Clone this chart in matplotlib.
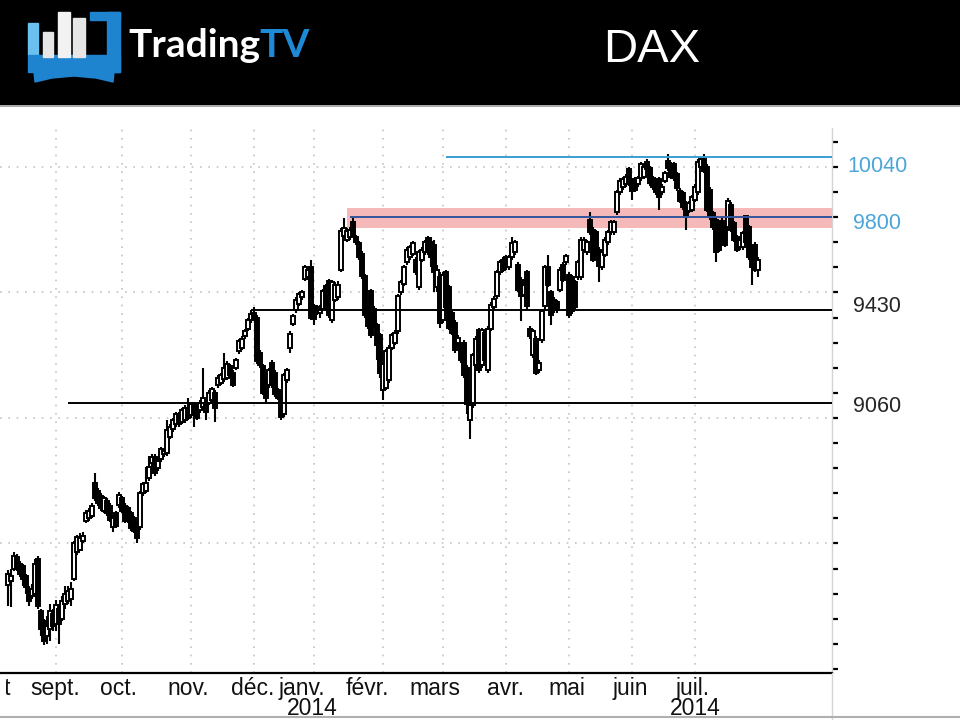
import numpy as np
import matplotlib
matplotlib.use("Agg")
import matplotlib.pyplot as plt
from matplotlib.patches import Rectangle, Polygon
from matplotlib.lines import Line2D
from matplotlib.transforms import blended_transform_factory, Bbox

# DAX daily candles, Aug 2013 - Jul 2014
opens = [
    8335, 8350, 8400, 8445, 8420, 8410, 8370, 8320, 8290, 8300,
    8440, 8230, 8190, 8130, 8160, 8220, 8180, 8240, 8200, 8260,
    8270, 8280, 8360, 8465, 8475, 8510, 8590, 8600, 8610, 8740,
    8710, 8690, 8630, 8670, 8650, 8565, 8620, 8655, 8680, 8650,
    8640, 8620, 8600, 8580, 8565, 8700, 8710, 8760, 8820, 8845,
    8800, 8835, 8855, 8860, 8925, 8955, 8975, 9015, 8985, 8990,
    9040, 9010, 9055, 9040, 9030, 9045, 9060, 9060, 9070, 9100,
    9130, 9140, 9155, 9160, 9205, 9180, 9200, 9265, 9280, 9325,
    9355, 9390, 9420, 9400, 9260, 9205, 9150, 9130, 9220, 9180,
    9110, 9070, 9015, 9150, 9280, 9375, 9430, 9455, 9480, 9555,
    9560, 9600, 9445, 9440, 9420, 9435, 9525, 9545, 9390, 9470,
    9480, 9590, 9725, 9710, 9720, 9780, 9720, 9695, 9655, 9565,
    9435, 9505, 9435, 9370, 9330, 9110, 9120, 9150, 9280, 9300,
    9345, 9500, 9535, 9620, 9640, 9655, 9630, 9520, 9630, 9660,
    9715, 9700, 9690, 9520, 9560, 9390, 9580, 9520, 9420, 9380,
    9300, 9290, 9300, 9200, 8990, 9050, 9210, 9350, 9210, 9340,
    9190, 9355, 9440, 9485, 9580, 9630, 9640, 9600, 9640, 9660,
    9610, 9550, 9490, 9580, 9355, 9250, 9315, 9190, 9310, 9445,
    9600, 9500, 9470, 9460, 9510, 9610, 9620, 9570, 9560, 9540,
    9560, 9560, 9670, 9660, 9790, 9750, 9740, 9670, 9600, 9650,
    9700, 9740, 9740, 9820, 9900, 9920, 9930, 9990, 9945, 9950,
    9930, 9955, 9960, 10020, 9995, 9955, 9940, 9950, 9900, 9945,
    10025, 10010, 10010, 9970, 9905, 9895, 9855, 9825, 9830, 9870,
    9900, 10000, 10030, 10000, 9910, 9815, 9790, 9775, 9785, 9760,
    9760, 9850, 9775, 9720, 9680, 9680, 9805, 9760, 9680, 9690,
    9590,
]
highs = [
    8395, 8400, 8465, 8460, 8430, 8420, 8380, 8330, 8340, 8440,
    8450, 8240, 8200, 8210, 8260, 8240, 8275, 8260, 8290, 8330,
    8330, 8345, 8510, 8535, 8540, 8545, 8635, 8640, 8660, 8780,
    8720, 8700, 8690, 8680, 8660, 8610, 8630, 8705, 8690, 8660,
    8650, 8630, 8610, 8590, 8710, 8745, 8805, 8850, 8855, 8855,
    8840, 8885, 8880, 8990, 8975, 9000, 9025, 9025, 9040, 9050,
    9080, 9065, 9065, 9050, 9070, 9200, 9070, 9110, 9125, 9110,
    9170, 9180, 9260, 9225, 9215, 9190, 9240, 9315, 9325, 9355,
    9400, 9430, 9440, 9410, 9270, 9215, 9160, 9200, 9230, 9190,
    9120, 9085, 9180, 9200, 9345, 9415, 9480, 9500, 9510, 9610,
    9600, 9630, 9455, 9450, 9450, 9515, 9535, 9555, 9550, 9540,
    9545, 9755, 9795, 9755, 9760, 9795, 9730, 9705, 9665, 9575,
    9445, 9515, 9445, 9380, 9340, 9225, 9275, 9290, 9340, 9350,
    9495, 9550, 9610, 9680, 9690, 9705, 9640, 9670, 9680, 9710,
    9725, 9720, 9710, 9610, 9580, 9580, 9590, 9530, 9430, 9390,
    9330, 9300, 9310, 9210, 9060, 9260, 9325, 9360, 9360, 9350,
    9365, 9460, 9485, 9590, 9630, 9640, 9650, 9650, 9720, 9710,
    9620, 9560, 9540, 9590, 9365, 9355, 9325, 9230, 9435, 9610,
    9650, 9510, 9480, 9470, 9600, 9620, 9655, 9580, 9570, 9550,
    9630, 9720, 9720, 9710, 9820, 9760, 9750, 9680, 9670, 9720,
    9750, 9790, 9790, 9910, 9955, 9960, 9970, 10000, 9955, 9960,
    9965, 10020, 10010, 10030, 10005, 9965, 9950, 9960, 9930, 9985,
    10050, 10020, 10020, 9980, 9915, 9905, 9865, 9865, 9890, 9930,
    10030, 10040, 10050, 10010, 9920, 9825, 9800, 9785, 9795, 9770,
    9875, 9860, 9785, 9730, 9720, 9745, 9810, 9770, 9690, 9700,
    9640,
]
lows = [
    8250, 8245, 8390, 8390, 8365, 8330, 8300, 8250, 8280, 8290,
    8240, 8130, 8095, 8100, 8110, 8150, 8150, 8100, 8190, 8240,
    8260, 8250, 8350, 8455, 8470, 8500, 8580, 8590, 8600, 8670,
    8650, 8630, 8620, 8610, 8585, 8545, 8560, 8640, 8620, 8580,
    8580, 8550, 8540, 8500, 8555, 8690, 8700, 8750, 8810, 8770,
    8790, 8825, 8845, 8850, 8915, 8945, 8965, 8965, 8975, 8980,
    8990, 9000, 8965, 8990, 9020, 9035, 8990, 9050, 9060, 8985,
    9120, 9130, 9145, 9150, 9160, 9125, 9190, 9255, 9270, 9315,
    9345, 9380, 9385, 9215, 9200, 9090, 9060, 9120, 9120, 9085,
    9070, 8990, 9005, 9140, 9260, 9365, 9420, 9445, 9470, 9545,
    9550, 9390, 9370, 9410, 9400, 9425, 9425, 9400, 9380, 9460,
    9470, 9580, 9715, 9700, 9710, 9720, 9690, 9630, 9555, 9400,
    9355, 9320, 9360, 9230, 9160, 9070, 9110, 9140, 9270, 9290,
    9335, 9490, 9525, 9610, 9630, 9645, 9570, 9510, 9620, 9650,
    9650, 9600, 9500, 9500, 9360, 9380, 9430, 9350, 9330, 9260,
    9290, 9220, 9160, 9015, 8915, 9040, 9200, 9180, 9200, 9220,
    9180, 9345, 9430, 9475, 9570, 9580, 9590, 9590, 9630, 9650,
    9500, 9385, 9480, 9435, 9315, 9240, 9170, 9180, 9300, 9435,
    9520, 9370, 9420, 9420, 9500, 9540, 9610, 9400, 9415, 9430,
    9550, 9550, 9660, 9650, 9730, 9620, 9650, 9540, 9590, 9640,
    9690, 9730, 9730, 9810, 9890, 9910, 9920, 9925, 9870, 9900,
    9920, 9945, 9950, 9980, 9925, 9910, 9890, 9830, 9890, 9935,
    9985, 9950, 9945, 9905, 9855, 9830, 9750, 9815, 9820, 9860,
    9890, 9990, 9975, 9820, 9790, 9750, 9620, 9660, 9700, 9680,
    9750, 9740, 9700, 9660, 9670, 9670, 9690, 9630, 9530, 9580,
    9560,
]
closes = [
    8380, 8370, 8450, 8400, 8380, 8360, 8325, 8270, 8320, 8420,
    8250, 8160, 8110, 8170, 8230, 8170, 8255, 8180, 8270, 8300,
    8310, 8320, 8500, 8525, 8520, 8530, 8620, 8630, 8650, 8680,
    8660, 8640, 8680, 8620, 8595, 8600, 8570, 8695, 8630, 8590,
    8590, 8560, 8550, 8520, 8700, 8735, 8740, 8805, 8845, 8780,
    8830, 8875, 8870, 8950, 8965, 8990, 9015, 8975, 9030, 9040,
    9000, 9055, 9010, 9000, 9060, 9080, 9025, 9100, 9115, 9040,
    9160, 9170, 9200, 9215, 9170, 9130, 9230, 9305, 9315, 9345,
    9390, 9415, 9395, 9225, 9210, 9100, 9080, 9190, 9130, 9095,
    9080, 9005, 9170, 9190, 9335, 9405, 9470, 9495, 9500, 9600,
    9590, 9400, 9395, 9420, 9435, 9505, 9435, 9410, 9540, 9530,
    9530, 9745, 9755, 9745, 9750, 9730, 9700, 9640, 9565, 9410,
    9365, 9330, 9370, 9290, 9180, 9215, 9265, 9280, 9330, 9340,
    9485, 9540, 9600, 9670, 9680, 9695, 9580, 9660, 9670, 9700,
    9660, 9640, 9580, 9590, 9380, 9570, 9440, 9360, 9340, 9270,
    9320, 9230, 9170, 9055, 9050, 9250, 9315, 9190, 9350, 9230,
    9355, 9450, 9475, 9580, 9620, 9590, 9600, 9640, 9695, 9700,
    9510, 9485, 9530, 9445, 9325, 9345, 9180, 9220, 9425, 9600,
    9530, 9410, 9430, 9430, 9590, 9550, 9645, 9410, 9425, 9440,
    9620, 9710, 9710, 9700, 9740, 9630, 9660, 9605, 9660, 9710,
    9740, 9780, 9780, 9900, 9945, 9950, 9960, 9935, 9905, 9910,
    9955, 10010, 10000, 9990, 9935, 9920, 9900, 9880, 9920, 9975,
    9995, 9960, 9955, 9915, 9865, 9840, 9800, 9855, 9880, 9920,
    10020, 10030, 9985, 9830, 9800, 9760, 9660, 9670, 9710, 9690,
    9865, 9750, 9710, 9670, 9710, 9735, 9700, 9640, 9600, 9590,
    9630,
]

# month labels (index of first trading day of each month)
month_names = ["août", "sept.", "oct.", "nov.", "déc.", "janv.", "févr.",
               "mars", "avr.", "mai", "juin", "juil."]
month_starts = [-6, 16, 38, 61, 82, 102, 125, 145, 166, 187, 208, 229]
label_pos = [-6.5, 15.7, 36.7, 60, 81.7, 98, 119.7, 142.3, 165.7, 186.3, 207.3, 228.3]
year_labels = ["2014", "2014"]
year_pos = [101.3, 229]

# horizontal levels drawn on the chart
level_values = [10040, 9800, 9430, 9060]
level_start = [146, 114, 81, 20]
level_colors = ["#3d9dd2", "#33549c", "black", "black"]
label_y = [10000, 9776, 9444, 9046]
label_colors = ["#4ca6d8", "#4ca6d8", "#262626", "#262626"]
band_low, band_high, band_start = 9756, 9835, 113

o = np.array(opens); h = np.array(highs); l = np.array(lows); c = np.array(closes)
x = np.arange(len(c))
up = c >= o

fig = plt.figure(figsize=(9.6, 7.2), dpi=100)
fig.patch.set_facecolor("white")

# ---- header band with logo and title
hdr = fig.add_axes([0, 1 - 105 / 720, 1, 105 / 720])
hdr.set_facecolor("black")
hdr.set_xlim(0, 960)
hdr.set_ylim(105, 0)
hdr.set_xticks([]); hdr.set_yticks([])
for s in hdr.spines.values():
    s.set_visible(False)

blue = "#1f84d0"
hdr.add_patch(Rectangle((28, 23), 10, 32, color="#6cc0f0"))
hdr.add_patch(Rectangle((28, 55), 92, 17, color=blue))
hdr.add_patch(Rectangle((90, 12), 30, 8, color=blue))
hdr.add_patch(Rectangle((107, 12), 13, 60, color=blue))
hdr.add_patch(Polygon([(34, 72), (114, 72), (113, 82), (96, 78), (74, 76), (52, 78), (35, 82)],
                      color=blue))
hdr.add_patch(Rectangle((43, 32), 10, 25, color="#e6e6e6"))
hdr.add_patch(Rectangle((58, 12), 12, 45, color="#f2f2f2"))
hdr.add_patch(Rectangle((73, 18), 12, 39, color="#e6e6e6"))
hdr.text(128, 57, "Trading", color="white", fontsize=28, fontfamily="Lato",
         fontweight="bold", ha="left", va="baseline")
hdr.text(259, 57, "TV", color="#1e8ad6", fontsize=28, fontfamily="Lato",
         fontweight="bold", ha="left", va="baseline")
hdr.text(652, 62, "DAX", color="white", fontsize=34, fontfamily="Liberation Sans",
         ha="center", va="baseline")

# ---- price chart
ax = fig.add_axes([0, 47 / 720, 832 / 960, 545 / 720])
ax.set_xlim(-2.67, 274.67)
ax.set_ylim(7984, 10155)

grid_kw = dict(color="#c4c4c4", lw=1.2, ls=(0, (1, 4)), zorder=0)
for m in month_starts:
    ax.axvline(m, **grid_kw)
for g in [8500, 9000, 9500, 10000]:
    ax.axhline(g, **grid_kw)

xmax = ax.get_xlim()[1]
ax.fill_between([band_start, xmax], band_low, band_high, color="#f6b9b9", lw=0, zorder=1)

ax.vlines(x, l, h, color="black", lw=1.5, zorder=2)
body_h = np.maximum(np.abs(c - o), 8)
ax.bar(x, body_h, bottom=np.minimum(o, c), width=1.5,
       color=np.where(up, "white", "black"), edgecolor="black", linewidth=1.4, zorder=3)

for v, s, col in zip(level_values, level_start, level_colors):
    ax.hlines(v, s, xmax, color=col, lw=1.4, zorder=4)

# axes styling
ax.spines["top"].set_visible(False)
ax.spines["left"].set_visible(False)
ax.spines["bottom"].set_color("black")
ax.spines["bottom"].set_linewidth(1.6)
ax.spines["right"].set_color("#d4d4d4")
ax.spines["right"].set_linewidth(1.0)
ax.set_xticks([])
ax.yaxis.tick_right()
ax.set_yticks([])
ax.set_yticks(np.arange(8000, 10101, 100), minor=True)
ax.tick_params(axis="y", which="minor", length=4, width=1.6, color="black",
               direction="out", right=True, left=False, labelright=False)

ytr = blended_transform_factory(ax.transAxes, ax.transData)
for v, yl, col in zip(level_values, label_y, label_colors):
    ax.text(877 / 832, yl, str(v), transform=ytr, color=col, fontsize=15.5,
            fontfamily="Liberation Sans", ha="center", va="center", clip_on=False)

# month names; the first one is cut by the left edge of the chart
xtr = blended_transform_factory(ax.transData, ax.transAxes)
edge_clip = Bbox([[6, 0], [960, 720]])
for name, pos in zip(month_names, label_pos):
    t = ax.text(pos, -22 / 545, name, transform=xtr, fontsize=16.5,
                fontfamily="Liberation Sans", ha="center", va="baseline",
                color="#111111", clip_on=True)
    t.set_clip_box(edge_clip)
for name, pos in zip(year_labels, year_pos):
    ax.text(pos, -42 / 545, name, transform=xtr, fontsize=16.5, fontfamily="Liberation Sans",
            ha="center", va="baseline", color="#111111", clip_on=False)

# thin frame lines outside the axes
fig.add_artist(Line2D([0, 1], [1 - 106 / 720] * 2, color="#9a9a9a", lw=1.2))
fig.add_artist(Line2D([832 / 960] * 2, [0, 47 / 720], color="#d4d4d4", lw=1.0))
fig.add_artist(Line2D([0, 1], [3 / 720] * 2, color="#b0b0b0", lw=1.5))

fig.savefig("out.png", dpi=100)
